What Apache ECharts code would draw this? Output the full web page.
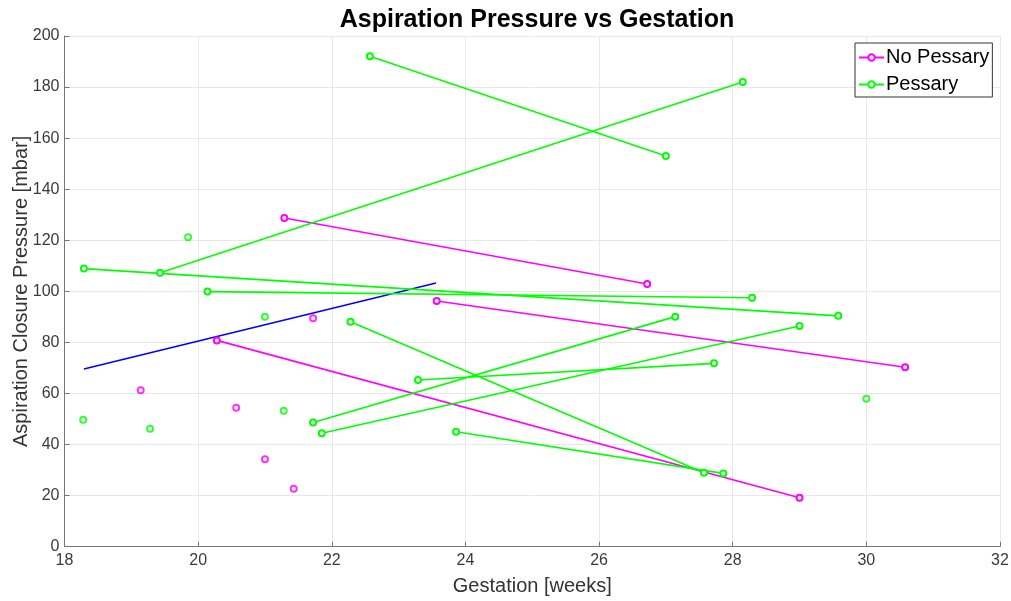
<!DOCTYPE html>
<html>
<head>
<meta charset="utf-8">
<script src="https://cdn.jsdelivr.net/npm/echarts@6/dist/echarts.min.js"></script>
<style>
  html, body { margin: 0; padding: 0; background: #fff; }
  #chart { width: 1011px; height: 601px; }
</style>
</head>
<body>
<div id="chart"></div>
<script>
// Paired measurements: [gestation1, pressure1, gestation2, pressure2]
const noPessaryPairs = [
  [21.29, 128.7, 26.72, 102.9],
  [23.57, 96.2, 30.58, 70.3],
  [20.28, 80.8, 29.00, 19.2]
];
// Single measurements: [gestation, pressure]
const noPessarySingles = [
  [19.14, 61.3],
  [20.57, 54.4],
  [21.00, 34.2],
  [21.43, 22.7],
  [21.72, 89.5]
];
const pessaryPairs = [
  [22.57, 192.1, 27.00, 153.0],
  [19.43, 107.3, 28.15, 182.0],
  [18.29, 108.9, 29.58, 90.4],
  [20.14, 99.9, 28.29, 97.5],
  [22.28, 88.1, 27.57, 29.0],
  [23.29, 65.3, 27.72, 71.8],
  [21.72, 48.6, 27.14, 90.1],
  [21.85, 44.4, 29.00, 86.4],
  [23.86, 45.0, 27.86, 28.7]
];
const pessarySingles = [
  [19.85, 121.2],
  [18.28, 49.7],
  [19.28, 46.2],
  [21.00, 90.1],
  [21.28, 53.2],
  [30.00, 57.9]
];
// Fitted trend line endpoints
const trendLine = [[18.29, 69.6], [23.56, 103.3]];

const xTicks = [18, 20, 22, 24, 26, 28, 30, 32];
const yTicks = [0, 20, 40, 60, 80, 100, 120, 140, 160, 180, 200];

const MAGENTA = '#ff00ff';
const GREEN = '#00ff00';
const BLUE = '#0000ff';
const FONT = '"Liberation Sans", Arial, Helvetica, sans-serif';

function groupSeries(name, color, pairs, singles) {
  const out = [];
  pairs.forEach(p => {
    out.push({
      name, type: 'line', color,
      data: [[p[0], p[1]], [p[2], p[3]]],
      symbol: 'emptyCircle', symbolSize: 6, showAllSymbol: true,
      lineStyle: { color, width: 1.6 },
      itemStyle: { color, borderColor: color, borderWidth: 1.6 },
      emphasis: { disabled: true }, animation: false, z: 3
    });
  });
  out.push({
    name, type: 'scatter', color,
    data: singles,
    symbol: 'emptyCircle', symbolSize: 6,
    itemStyle: { color, borderColor: color, borderWidth: 1.6 },
    emphasis: { disabled: true }, animation: false, z: 3
  });
  return out;
}

const series = [
  ...groupSeries('No Pessary', MAGENTA, noPessaryPairs, noPessarySingles),
  ...groupSeries('Pessary', GREEN, pessaryPairs, pessarySingles),
  {
    name: 'trend', type: 'line', data: trendLine, symbol: 'none',
    lineStyle: { color: BLUE, width: 1.6 }, emphasis: { disabled: true },
    animation: false, z: 2
  }
];

const chart = echarts.init(document.getElementById('chart'), null, { renderer: 'canvas' });
chart.setOption({
  backgroundColor: '#ffffff',
  animation: false,
  title: {
    text: 'Aspiration Pressure vs Gestation',
    left: 532, top: 3, textAlign: 'center',
    textStyle: { fontFamily: FONT, fontSize: 25, fontWeight: 'bold', color: '#000' }
  },
  legend: {
    data: ['No Pessary', 'Pessary'],
    orient: 'vertical',
    left: 855, top: 43,
    padding: [3, 3, 1, 3],
    itemGap: 4,
    itemWidth: 25, itemHeight: 8,
    backgroundColor: '#fff',
    borderColor: '#333', borderWidth: 1,
    textStyle: { fontFamily: FONT, fontSize: 20, lineHeight: 23, color: '#000', padding: [0, 0, 0, -3] }
  },
  grid: { left: 64.5, right: 11, top: 36, bottom: 54.3, containLabel: false, outerBoundsMode: 'none' },
  xAxis: {
    type: 'value', min: 18, max: 32, interval: 2,
    name: 'Gestation [weeks]', nameLocation: 'middle', nameGap: 30, nameMoveOverlap: false,
    nameTextStyle: { fontFamily: FONT, fontSize: 20, color: '#333' },
    axisLine: { onZero: false, lineStyle: { color: '#777', width: 1 } },
    axisTick: { inside: true, length: 5, lineStyle: { color: '#777' } },
    axisLabel: { fontFamily: FONT, fontSize: 16, color: '#3a3a3a', margin: 6,
      formatter: v => xTicks.includes(v) ? String(v) : '' },
    splitLine: { show: true, lineStyle: { color: '#e8e8e8', width: 1 } }
  },
  yAxis: {
    type: 'value', min: 0, max: 200, interval: 20,
    name: 'Aspiration Closure Pressure [mbar]', nameLocation: 'middle', nameGap: 33, nameMoveOverlap: false,
    nameTextStyle: { fontFamily: FONT, fontSize: 20, color: '#333' },
    axisLine: { show: true, onZero: false, lineStyle: { color: '#777', width: 1 } },
    axisTick: { show: true, inside: true, length: 5, lineStyle: { color: '#777' } },
    axisLabel: { fontFamily: FONT, fontSize: 16, color: '#3a3a3a', margin: 5,
      formatter: v => yTicks.includes(v) ? String(v) : '' },
    splitLine: { show: true, lineStyle: { color: '#e8e8e8', width: 1 } }
  },
  series
});
</script>
</body>
</html>
